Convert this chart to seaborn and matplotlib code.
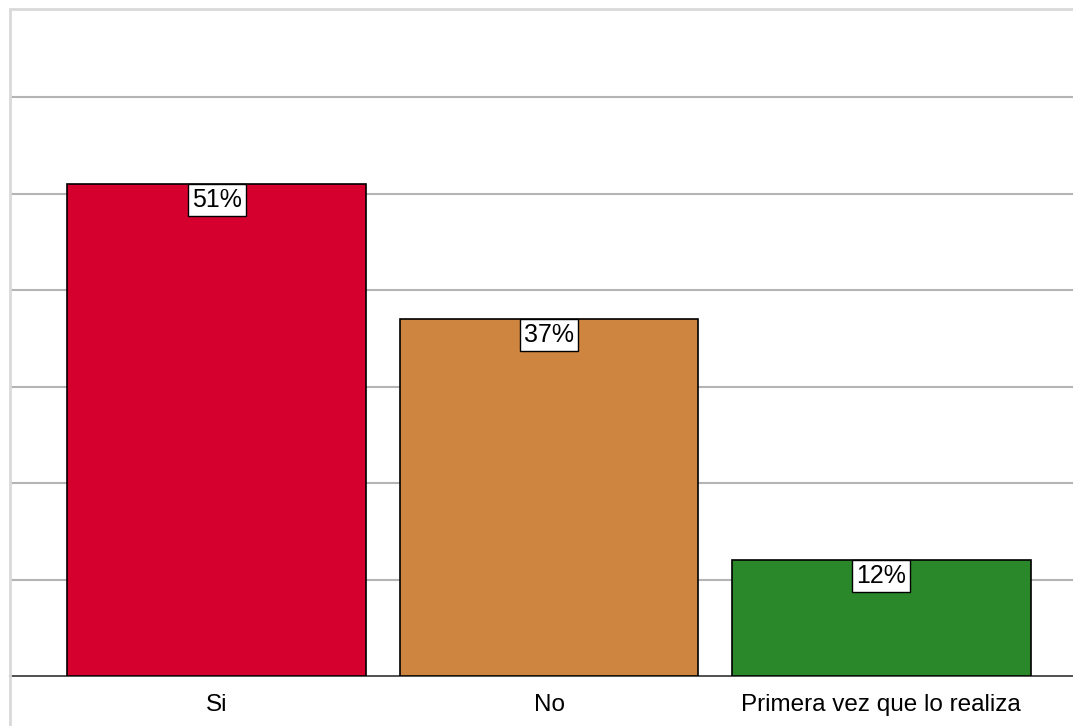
import matplotlib
matplotlib.use("Agg")
import matplotlib.pyplot as plt
import seaborn as sns
import pandas as pd
from matplotlib.patches import Rectangle

categorias = ["Si", "No", "Primera vez que lo realiza"]
porcentajes = [51, 37, 12]
colores = ["#D6002F", "#CD853F", "#2A882A"]

df = pd.DataFrame({"respuesta": categorias, "pct": porcentajes})

sns.set_theme(style="white")
plt.rcParams["font.family"] = ["Liberation Sans", "DejaVu Sans"]

W, H = 1073, 726
fig = plt.figure(figsize=(W / 100, H / 100), dpi=100)

# axes area in pixels: left 10, bottom 676, top 8.5, right goes past the image
x0, x1 = 10, 1088
y_top, y_bot = 8.5, 676
ax = fig.add_axes([x0 / W, (H - y_bot) / H, (x1 - x0) / W, (y_bot - y_top) / H])

sns.barplot(data=df, x="respuesta", y="pct", hue="respuesta", palette=colores,
            saturation=1, width=0.9, edgecolor="black", linewidth=1.2,
            legend=False, ax=ax, zorder=3)

ax.set_xlim(-0.623, 2.623)
ax.set_ylim(0, 69.2)
ax.set_yticks([10, 20, 30, 40, 50, 60])
ax.yaxis.grid(True, color="#B4B4B4", linewidth=1.5, zorder=0)
ax.set_axisbelow(True)
ax.tick_params(axis="y", left=False, labelleft=False)
ax.tick_params(axis="x", bottom=False, labelsize=17.5, pad=7, colors="black")
ax.set_xlabel("")
ax.set_ylabel("")

for s in ["top", "right", "left"]:
    ax.spines[s].set_visible(False)
ax.spines["bottom"].set_color("#333333")
ax.spines["bottom"].set_linewidth(1.2)

for i, v in enumerate(porcentajes):
    ax.annotate(f"{v}%", xy=(i, v), xytext=(0, -2.7), textcoords="offset points",
                ha="center", va="top", fontsize=18, color="black", zorder=5,
                bbox=dict(boxstyle="square,pad=0.15", fc="white", ec="black", lw=1))

# outer light grey frame around the whole chart
fig.patches.append(Rectangle((x0 / W, -0.05), 1.1, (H - y_top) / H + 0.05,
                             transform=fig.transFigure, fill=False,
                             ec="#D9D9D9", lw=2, zorder=10))

fig.savefig("out.png", dpi=100, facecolor="white")
